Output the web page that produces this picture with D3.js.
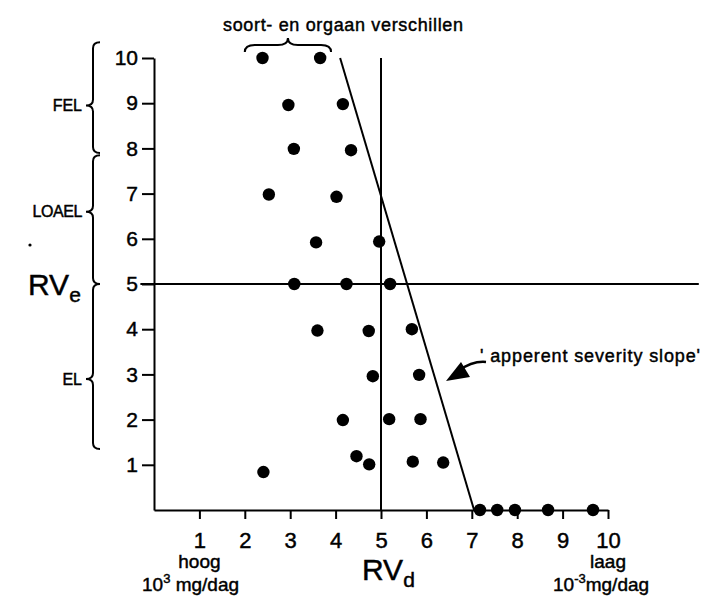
<!DOCTYPE html>
<html>
<head>
<meta charset="utf-8">
<script src="https://cdn.jsdelivr.net/npm/d3@7"></script>
<style>
  body { margin: 0; background: #fff; }
  svg text { font-family: "Liberation Sans", Arial, sans-serif; fill: #000; stroke: #000; stroke-width: 0.45px; }
</style>
</head>
<body>
<svg width="703" height="597"></svg>
<script>
const svg = d3.select("svg")

const pointsRVd = [2.39, 3.66, 2.96, 4.16, 3.08, 4.34, 2.53, 4.02, 3.57, 4.96,
    3.09, 4.24, 5.20, 3.60, 4.73, 5.68, 4.82, 5.84, 4.16, 5.18, 5.87,
    4.46, 4.74, 2.41, 5.70, 6.37, 7.18, 7.56, 7.95, 8.68, 9.67]
const pointsRVe = [10, 10, 8.96, 8.98, 7.99, 7.96, 6.98, 6.93, 5.92, 5.94,
    5.0, 5.0, 5.0, 3.97, 3.96, 4.0, 2.96, 2.99, 1.99, 2.01, 2.01,
    1.19, 1.01, 0.84, 1.07, 1.05, 0, 0, 0, 0, 0]

// 'apperent severity slope' end points
const slopeRVd = [4.1, 7.05]
const slopeRVe = [10, 0]

const xTicks = [1, 2, 3, 4, 5, 6, 7, 8, 9, 10]
const yTicks = [1, 2, 3, 4, 5, 6, 7, 8, 9, 10]

// effect bands on the left: label, from, to, tip
const bandLabels = ["FEL", "LOAEL", "EL"]
const bandFrom = [10.35, 7.85, 5.0]
const bandTo = [7.9, 5.0, 1.35]
const bandTip = [8.95, 6.6, 2.9]

const x = d3.scaleLinear().domain([0, 10]).range([154, 608]),
    y = d3.scaleLinear().domain([0, 10]).range([510, 58])

const points = pointsRVd.map((d, i) => ({ rvd: d, rve: pointsRVe[i] }))

// axes
const yAxis = svg.append("g")
    .attr("transform", `translate(${x(0)},0)`)
    .call(d3.axisLeft(y).tickValues(yTicks).tickSize(12).tickSizeOuter(0).tickPadding(4))
const xAxis = svg.append("g")
    .attr("transform", `translate(0,${y(0)})`)
    .call(d3.axisBottom(x).tickValues(xTicks).tickSize(9).tickSizeOuter(0).tickPadding(13))

for (const g of [xAxis, yAxis]) {
    g.selectAll("path, line").attr("stroke", "#000").attr("stroke-width", 2)
    g.selectAll("text").attr("font-size", 21).attr("fill", "#000")
        .attr("font-family", "Liberation Sans, Arial, sans-serif")
}
xAxis.selectAll("text").attr("font-size", 22)

// reference lines at RVd = 5 and RVe = 5
svg.append("line")
    .attr("x1", x(5)).attr("x2", x(5))
    .attr("y1", y(0)).attr("y2", y(10))
    .attr("stroke", "#000").attr("stroke-width", 2)
svg.append("line")
    .attr("x1", x(-0.3)).attr("x2", x(12))
    .attr("y1", y(5)).attr("y2", y(5))
    .attr("stroke", "#000").attr("stroke-width", 2)

// severity slope
const line = d3.line().x(d => x(d[0])).y(d => y(d[1]))
svg.append("path")
    .attr("d", line(slopeRVd.map((d, i) => [d, slopeRVe[i]])))
    .attr("fill", "none").attr("stroke", "#000").attr("stroke-width", 2)

svg.selectAll("circle.obs")
    .data(points)
    .enter()
    .append("circle")
    .attr("class", "obs")
    .attr("cx", d => x(d.rvd))
    .attr("cy", d => y(d.rve))
    .attr("r", 6.2)
    .attr("fill", "#000")

// curly brace pointing left (vertical) or up (horizontal)
function braceV(x0, y1, y2, ym, w) {
    const r = 6
    return `M${x0 + w},${y1} Q${x0},${y1} ${x0},${y1 + r} L${x0},${ym - r}
        Q${x0},${ym} ${x0 - w},${ym} Q${x0},${ym} ${x0},${ym + r}
        L${x0},${y2 - r} Q${x0},${y2} ${x0 + w},${y2}`
}
function braceH(y0, x1, x2, xm, h) {
    const r = 10
    return `M${x1},${y0 + h} Q${x1},${y0} ${x1 + r},${y0} L${xm - r},${y0}
        Q${xm},${y0} ${xm},${y0 - h} Q${xm},${y0} ${xm + r},${y0}
        L${x2 - r},${y0} Q${x2},${y0} ${x2},${y0 + h}`
}

bandLabels.forEach(function (lab, i) {
    svg.append("path")
        .attr("d", braceV(93, y(bandFrom[i]), y(bandTo[i]), y(bandTip[i]), 7))
        .attr("fill", "none").attr("stroke", "#000").attr("stroke-width", 2)
    svg.append("text")
        .attr("x", 82).attr("y", y(bandTip[i]))
        .attr("dy", "0.36em")
        .attr("text-anchor", "end")
        .attr("font-size", 16)
        .attr("letter-spacing", lab == "LOAEL" ? -0.4 : 0)
        .text(lab)
})
svg.append("circle").attr("cx", 30).attr("cy", 245).attr("r", 1.6).attr("fill", "#000")

// RVe label
const rve = svg.append("text").attr("x", 28).attr("y", y(5) + 11).attr("font-size", 30)
rve.append("tspan").text("RV")
rve.append("tspan").attr("font-size", 21).attr("dy", 7).text("e")

// species / organ brace on top
svg.append("path")
    .attr("d", braceH(45, x(2.0), x(3.9), x(2.95), 7))
    .attr("fill", "none").attr("stroke", "#000").attr("stroke-width", 2)
svg.append("text")
    .attr("x", 223).attr("y", 31)
    .attr("font-size", 18)
    .attr("textLength", 240).attr("lengthAdjust", "spacing")
    .text("soort- en orgaan verschillen")

// arrow to the slope
svg.append("path")
    .attr("d", "M486,362 C476,361 468,364 458,371")
    .attr("fill", "none").attr("stroke", "#000").attr("stroke-width", 2.5)
svg.append("path")
    .attr("d", "M446,381 L461,362 L470,377 Z")
    .attr("fill", "#000")
svg.append("text")
    .attr("x", 480).attr("y", 362)
    .attr("font-size", 18)
    .attr("textLength", 220).attr("lengthAdjust", "spacing")
    .text("' apperent severity slope'")

// bottom labels
svg.append("text").attr("x", x(1)).attr("y", 568).attr("text-anchor", "middle")
    .attr("font-size", 19).text("hoog")
const hi = svg.append("text").attr("x", 142).attr("y", 591).attr("font-size", 19)
hi.append("tspan").text("10")
hi.append("tspan").attr("font-size", 13).attr("dy", -8).text("3")
hi.append("tspan").attr("dy", 8).text(" mg/dag")

const rvd = svg.append("text").attr("x", 362).attr("y", 580).attr("font-size", 30)
rvd.append("tspan").text("RV")
rvd.append("tspan").attr("font-size", 21).attr("dy", 7).text("d")

svg.append("text").attr("x", x(10)).attr("y", 568).attr("text-anchor", "middle")
    .attr("font-size", 19).text("laag")
const lo = svg.append("text").attr("x", 553).attr("y", 591).attr("font-size", 19)
lo.append("tspan").text("10")
lo.append("tspan").attr("font-size", 13).attr("dy", -8).text("-3")
lo.append("tspan").attr("dy", 8).text("mg/dag")
</script>
</body>
</html>
